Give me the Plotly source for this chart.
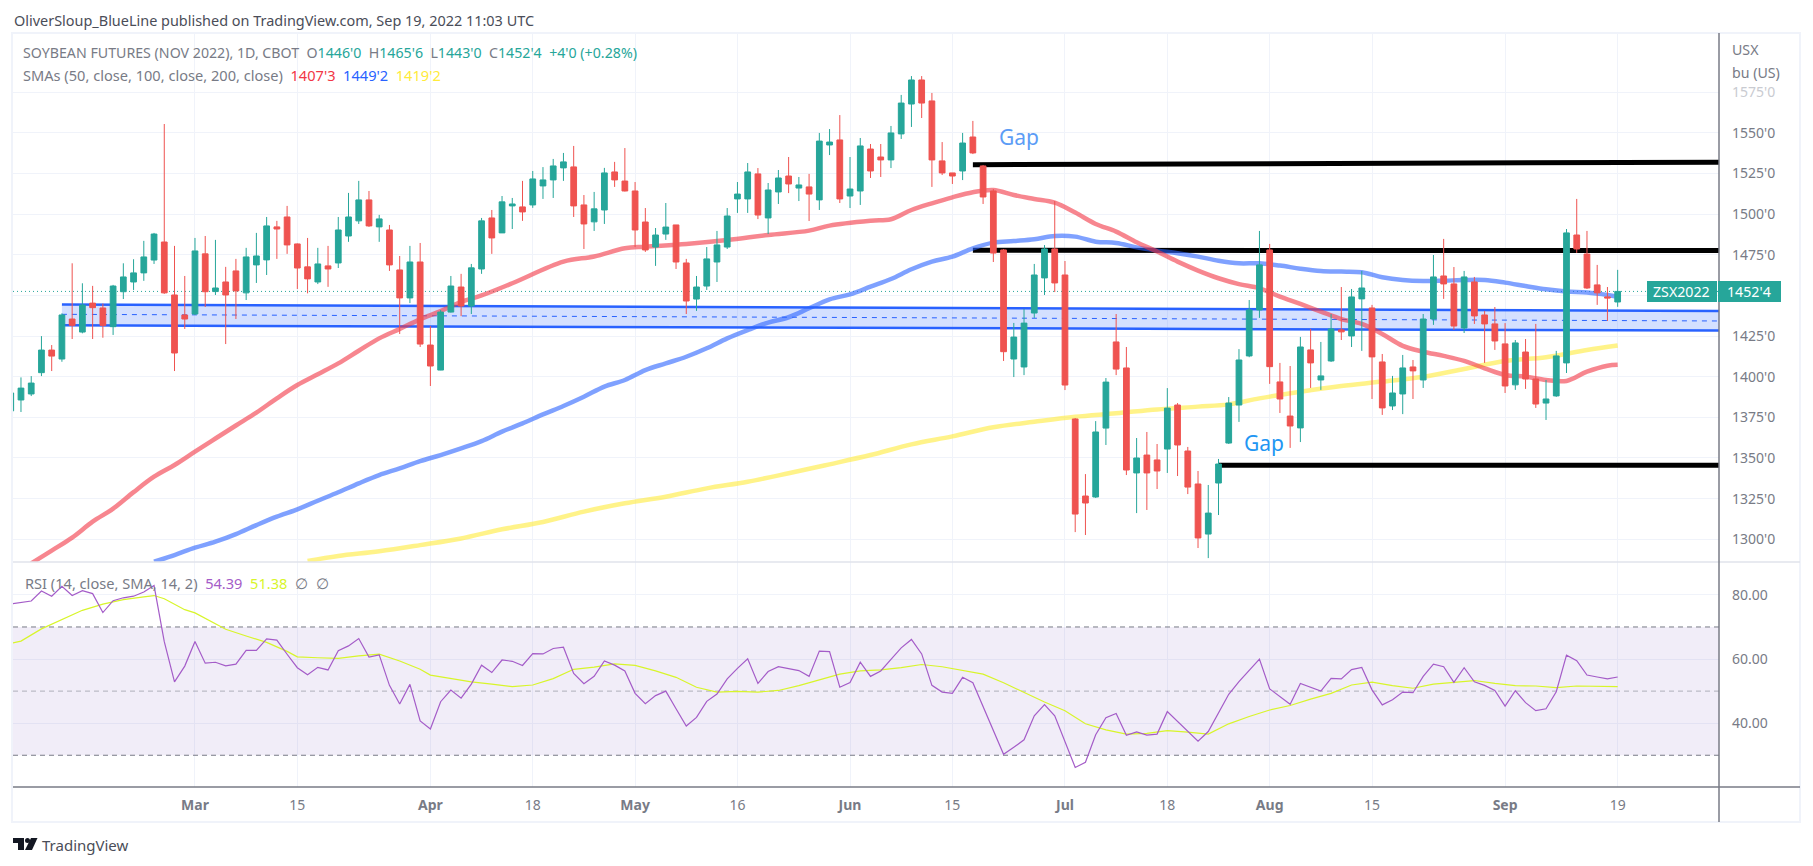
import pandas as pd
import plotly.graph_objects as go
from plotly.subplots import make_subplots

# ── data: daily bars, Feb 2 - Sep 19 2022 ──────────────────────────────────
holidays = ["2022-02-21", "2022-04-15", "2022-05-30", "2022-06-20", "2022-07-04", "2022-09-05"]
dates = [d for d in pd.bdate_range("2022-02-02", "2022-09-19") if d.strftime("%Y-%m-%d") not in holidays]

# open, high, low, close
ohlc = [
    (1379, 1390, 1379, 1390), (1385.7, 1399.6, 1378.3, 1393), (1389.4, 1400.4, 1388.1, 1396.1),
    (1402.5, 1425, 1400.4, 1416.4), (1416.4, 1419.5, 1403.5, 1412.7), (1410.9, 1439, 1409.2, 1438),
    (1435.5, 1469.8, 1423.2, 1431.6), (1427.5, 1457.5, 1426.7, 1444.1), (1445.3, 1455.9, 1423.2, 1442.5),
    (1442.3, 1445, 1424, 1431.6), (1430.8, 1456.5, 1425.7, 1455.8), (1452.3, 1469.8, 1447.8, 1461.4),
    (1458.3, 1472.3, 1453.4, 1463.9), (1463.9, 1483.6, 1459, 1473.7), (1471.8, 1488.5, 1469.4, 1487.8),
    (1482.9, 1555.5, 1451, 1451.6), (1450.3, 1480.5, 1403.5, 1414.6), (1438, 1462, 1429.4, 1435.5),
    (1438.6, 1485.4, 1438, 1477.4), (1475.6, 1486.6, 1442.9, 1452.3), (1452.4, 1484.2, 1450.3, 1454.6),
    (1458.3, 1467.6, 1420.1, 1450.3), (1465.1, 1472.5, 1435.5, 1452.8), (1451.6, 1479.3, 1447.2, 1473.7),
    (1468.8, 1488.5, 1457.7, 1474.3), (1471.9, 1498.3, 1462.6, 1492.8), (1492.2, 1495.9, 1472.5, 1490.9),
    (1498.3, 1505.1, 1475.6, 1481.1), (1481.7, 1482, 1454, 1466.9), (1467.6, 1485.4, 1451.3, 1460.2),
    (1458.3, 1479.3, 1457, 1469.4), (1468.2, 1480.5, 1455.3, 1466.3), (1470, 1498.3, 1466.9, 1490.3),
    (1486.6, 1513.1, 1483, 1498.3), (1495.9, 1520.5, 1494, 1508.8), (1508.8, 1514.3, 1492.2, 1492.8),
    (1492.2, 1499.6, 1483, 1497.1), (1490.3, 1493.4, 1465.1, 1468.8), (1465.7, 1474.3, 1426.3, 1448.5),
    (1448.5, 1480.5, 1445.3, 1470.6), (1470.6, 1482.3, 1418.3, 1420.1), (1419.5, 1431.2, 1394.3, 1406.6),
    (1404.1, 1441, 1404, 1439.8), (1439.8, 1462, 1439.5, 1455.8), (1455.2, 1463.3, 1437.3, 1443.5),
    (1443.5, 1469.4, 1438.6, 1467), (1466.3, 1497.7, 1463.3, 1495.9), (1497.7, 1502.6, 1475.6, 1485.4),
    (1488.5, 1511.2, 1488.5, 1507.6), (1505.1, 1510, 1490.9, 1506.3), (1504.5, 1520.5, 1495.9, 1501.4),
    (1505.7, 1526.6, 1503.9, 1521.7), (1517.4, 1529, 1509.4, 1521.1), (1521.1, 1534, 1510, 1529.7),
    (1528.5, 1537.7, 1520.5, 1532.2), (1529.1, 1542, 1498.3, 1505.1), (1505.7, 1511.8, 1478.6, 1494),
    (1495.3, 1513.7, 1489.7, 1503.3), (1502.6, 1528.5, 1494, 1525.4), (1526, 1532.2, 1516.8, 1521.1),
    (1520.4, 1540.7, 1514, 1514.3), (1514.3, 1519.8, 1479.8, 1490.3), (1495.2, 1503.8, 1476.8, 1478),
    (1479.8, 1491.5, 1468.2, 1487.2), (1487.8, 1506.9, 1484.2, 1492.1), (1493.4, 1493.4, 1466.3, 1470.6),
    (1470, 1472.5, 1438.6, 1446.6), (1447.8, 1462, 1440.5, 1455.2), (1455.8, 1479.8, 1453.4, 1472.5),
    (1470.6, 1489.7, 1458.3, 1481.1), (1479.8, 1503.8, 1478.6, 1498.9), (1509.4, 1519.8, 1500.8, 1512.4),
    (1509.4, 1531.5, 1500.8, 1526), (1524.8, 1528.4, 1497, 1499.5), (1497.7, 1519.2, 1487.8, 1514.9),
    (1513.7, 1527.2, 1506.3, 1522.3), (1523.5, 1535.2, 1513, 1518.6), (1516.1, 1522.9, 1508.1, 1518),
    (1516.8, 1524.8, 1495.8, 1512.4), (1508.8, 1550, 1502.6, 1545), (1542.6, 1552.4, 1536.4, 1544.4),
    (1545.7, 1561, 1506.9, 1509.4), (1511.2, 1535.2, 1503.8, 1515.5), (1514.3, 1546.9, 1505.7, 1542),
    (1540.1, 1543.2, 1522.3, 1526.6), (1535.2, 1543.2, 1522.9, 1533.4), (1533.4, 1554.3, 1528.4, 1550),
    (1549.4, 1573.4, 1546.3, 1568.4), (1567.8, 1585, 1553.7, 1582.6), (1582.6, 1585, 1559.2, 1568.4),
    (1569.7, 1574.6, 1516.8, 1533.4), (1532.8, 1544.4, 1524.1, 1525.4), (1525.4, 1525.4, 1518.6, 1523.5),
    (1526.6, 1550, 1521, 1543.8), (1547.5, 1557.4, 1537, 1537.7), (1529.7, 1530.3, 1506.3, 1510.6),
    (1514.3, 1515.5, 1470.6, 1476.1), (1478, 1478.6, 1409.7, 1415.4), (1410.9, 1433.1, 1399.8, 1424.4),
    (1406, 1441.7, 1401, 1433), (1439.2, 1469.4, 1436.2, 1462.6), (1460.8, 1481, 1450.3, 1478.6),
    (1478.6, 1508.1, 1452.1, 1457.7), (1462.6, 1471.2, 1391.8, 1394.9), (1374, 1374.6, 1304.4, 1315.5),
    (1326.6, 1340.1, 1302.6, 1322.3), (1326, 1372.7, 1325.4, 1366), (1368.4, 1399.2, 1358, 1396.7),
    (1421.4, 1438.6, 1401, 1404.7), (1405.4, 1418.3, 1339.5, 1342.6), (1340.8, 1362.3, 1316.1, 1350),
    (1351.8, 1366, 1318, 1340.8), (1348.8, 1358.6, 1330.9, 1342), (1355.5, 1393, 1340.8, 1380.7),
    (1382.6, 1383.8, 1338.9, 1358), (1354.3, 1356.8, 1327.8, 1332.1), (1334, 1342, 1294.6, 1300.8),
    (1303.2, 1333.4, 1288.4, 1316.1), (1334.6, 1349.4, 1314.9, 1346.3), (1359.2, 1387.5, 1358.6, 1383.8),
    (1382.6, 1417, 1372.2, 1410.3), (1412.8, 1447.2, 1412, 1441.1), (1441.1, 1489.7, 1436.2, 1468.8),
    (1478, 1481.7, 1395.6, 1406.2), (1396.8, 1408.5, 1377.7, 1386.3), (1375.8, 1406.6, 1356.2, 1369.7),
    (1368.5, 1424.5, 1359.8, 1418.3), (1416.5, 1429.4, 1393.1, 1408.5), (1398, 1421.4, 1391.9, 1400.5),
    (1409.7, 1438.6, 1409.1, 1429.4), (1428.8, 1455.2, 1422.6, 1427.6), (1425.1, 1454, 1418.3, 1449.1),
    (1447.9, 1465.1, 1415.9, 1454.6), (1442.3, 1444.2, 1386.3, 1412.2), (1409.1, 1414, 1376.5, 1380.8),
    (1382, 1400.5, 1379.5, 1390), (1389.4, 1413.4, 1377, 1405.4), (1406, 1410.3, 1386.3, 1403.6),
    (1398, 1438.6, 1393.1, 1435.5), (1435.5, 1474.9, 1431.9, 1461.4), (1462, 1484.8, 1447.9, 1457.1),
    (1457.1, 1467.5, 1428.8, 1431.2), (1430, 1465.1, 1426.9, 1461.4), (1458.3, 1461.4, 1432.5, 1437.4),
    (1438, 1440.5, 1408.5, 1432.5), (1432.5, 1442.9, 1416.5, 1422), (1420.2, 1433, 1390, 1394.3),
    (1395, 1422.6, 1391.9, 1420.8), (1415.2, 1423.2, 1392.5, 1398.6), (1398.6, 1432.5, 1380.8, 1383.2),
    (1383.8, 1398, 1373.4, 1386.3), (1388.2, 1415.9, 1387.6, 1412.8), (1408.5, 1490.9, 1402.3, 1488.5),
    (1487.2, 1509.4, 1476.2, 1478.6), (1475.5, 1489.7, 1454, 1454.6), (1456.5, 1468.8, 1444.2, 1451.6),
    (1449.1, 1455.2, 1434.3, 1448.5), (1446, 1465.75, 1443, 1452.5),
]
df = pd.DataFrame(ohlc, columns=["open", "high", "low", "close"])
df["date"] = dates
df["bar"] = range(len(df))

# moving averages, read every second bar or so
sma50 = {2: 1285.2, 4: 1293, 6: 1301, 8: 1310.8, 10: 1318.8, 12: 1329, 14: 1338.5, 16: 1345.7, 18: 1353.9,
         20: 1362, 22: 1370, 24: 1377.9, 26: 1386.7, 28: 1394.9, 30: 1401.5, 32: 1408.2, 34: 1416, 36: 1423.6,
         38: 1429.4, 40: 1435.3, 42: 1440.4, 44: 1446, 46: 1450, 49: 1457.5, 54: 1470.8, 57: 1474, 60: 1479,
         62: 1480, 66: 1481.7, 70: 1484.1, 74: 1487.2, 78: 1489.9, 80: 1493, 84: 1496, 86: 1496.9, 88: 1502.6,
         90: 1506.7, 92: 1510.4, 94: 1513.5, 96: 1514.9, 98: 1511.8, 100: 1509.4, 102: 1507.1, 104: 1501,
         106: 1494, 108: 1489.3, 110: 1482.7, 112: 1477, 114: 1470.8, 116: 1465.3, 118: 1460.6, 120: 1457,
         122: 1454.4, 124: 1449.3, 126: 1444.8, 128: 1440.1, 130: 1435.5, 132: 1432.5, 134: 1426.3, 136: 1419,
         138: 1415.4, 140: 1412.8, 142: 1409.7, 144: 1405.2, 146: 1401.1, 148: 1400, 150: 1398, 152: 1397.4,
         154: 1403.1, 156: 1406.8, 157: 1407.4}
sma100 = {14: 1286.2, 16: 1290.3, 18: 1294.8, 20: 1298.5, 22: 1303.2, 24: 1308.7, 26: 1313.9, 28: 1318.4,
          30: 1323.7, 32: 1328.9, 34: 1334.4, 36: 1339.5, 38: 1343.6, 40: 1348.1, 42: 1351.8, 44: 1355.9,
          46: 1360.4, 48: 1366.2, 50: 1371.3, 52: 1376.8, 54: 1382, 56: 1387.7, 58: 1393.9, 60: 1398, 62: 1404.1,
          64: 1408.2, 66: 1412.3, 68: 1417.5, 70: 1423.6, 72: 1428.7, 74: 1433.3, 76: 1436.6, 78: 1442.1,
          80: 1447.6, 82: 1450.7, 84: 1455.4, 86: 1460.1, 88: 1466.1, 90: 1470.8, 92: 1473.9, 94: 1479,
          96: 1482.5, 98: 1483.5, 100: 1484.6, 102: 1486.6, 104: 1486.2, 106: 1483.1, 108: 1482.3, 110: 1479.6,
          112: 1477.6, 114: 1476, 116: 1473.9, 118: 1471.4, 120: 1469.8, 122: 1469.8, 124: 1468.4, 126: 1466.5,
          128: 1465.1, 130: 1464.7, 132: 1464.3, 134: 1461.2, 136: 1459.5, 138: 1458.9, 140: 1459.1, 142: 1459.5,
          144: 1459.5, 146: 1457.9, 148: 1455.8, 150: 1453.8, 152: 1452.4, 154: 1451.8, 156: 1450.3, 157: 1449.25}
sma200 = {29: 1286.6, 32: 1289.7, 36: 1292.6, 40: 1296.4, 44: 1300.5, 48: 1306.1, 52: 1310.6, 56: 1317, 60: 1322.1,
          64: 1326.2, 68: 1331.3, 72: 1335.4, 76: 1340.6, 80: 1346.1, 84: 1351.8, 88: 1358.4, 92: 1363.3, 96: 1368.9,
          100: 1372.3, 104: 1375.4, 108: 1377.5, 112: 1379.9, 116: 1381.6, 119: 1383, 122: 1386.7, 126: 1390.8,
          130: 1394.3, 134: 1397, 138: 1400, 142: 1404.8, 146: 1409.7, 150: 1412, 154: 1416.5, 157: 1419.25}

rsi = [77.2, 77.7, 78.1, 81.2, 79.6, 82.7, 79.8, 81.3, 80.4, 74.5, 78.2, 79.1, 79.6, 80.9, 82.9, 65.4, 52.9, 57.8,
       65.5, 58.7, 59, 57.9, 58.4, 62.7, 62.7, 66.3, 65.9, 61.5, 57.3, 55.1, 57.4, 56.6, 62.6, 64.1, 66.4, 60.6,
       61.3, 51.8, 46, 52.1, 40.7, 38.2, 46.7, 50.3, 47.8, 52.2, 58.1, 55.8, 59.7, 59.3, 58, 61.7, 61.6, 63.3,
       63.7, 55.5, 52.3, 54.6, 59.4, 58.1, 56.3, 49.3, 46.1, 48.6, 50, 44.5, 39.1, 41.8, 46.8, 49.1, 53.8, 57.1,
       60.1, 52.4, 56.1, 57.6, 56.9, 56.4, 54.6, 62.5, 62.3, 51.2, 52.7, 59, 54.6, 56.3, 59.9, 63.5, 66.1, 61.6,
       51.8, 49.7, 49.3, 54.3, 52.6, 45.2, 37.7, 30.3, 32.5, 34.8, 42.3, 45.8, 42.3, 34, 26.2, 27.8, 36.4, 41.7,
       43, 36.2, 37.3, 36.3, 36.6, 43.6, 40.5, 37.4, 34.4, 37.4, 43.1, 49, 52.95, 56.6, 60, 50.7, 48.2, 45.9, 52.4,
       51.3, 50, 54, 53.8, 56.7, 57.4, 50.4, 45.7, 47.3, 49.7, 49.5, 54.6, 58.4, 57.6, 52.7, 57.3, 52.9, 51.8,
       50.2, 45.3, 50.1, 46.4, 43.9, 44.5, 49.8, 61.2, 59.5, 55, 54.4, 53.8, 54.39]
rsi_ma = {0: 64.9, 1: 65.6, 3: 69.4, 5: 72.4, 7: 75.2, 9: 77.1, 11: 78.5, 13: 79.4, 14: 79.8, 15: 78.8, 17: 75.4,
          18: 74.4, 20: 71.1, 21: 69.3, 23: 67.2, 25: 65.2, 27: 62.4, 28: 60.7, 30: 60.4, 32: 60.2, 34: 61, 36: 61.5,
          38: 59.4, 40: 56.8, 41: 55, 43: 54, 45: 52.9, 47: 52.2, 49: 51.4, 51: 51.9, 53: 53.9, 55: 56.8, 57: 57.5,
          59: 58.5, 61: 58, 63: 56.3, 65: 54.3, 67: 51.2, 69: 49.7, 71: 49.9, 73: 49.7, 75: 50.2, 77: 51.7, 79: 53.5,
          81: 55.3, 83: 56.3, 85: 56.6, 87: 57.3, 89: 58.3, 91: 57.6, 93: 56.5, 95: 55.3, 97: 52.6, 99: 49.5,
          101: 46.6, 103: 43.9, 105: 39.8, 107: 37.9, 109: 36.6, 111: 36.8, 113: 37.7, 115: 37.2, 117: 36.6,
          119: 39.8, 121: 42.1, 123: 44.1, 125: 45.5, 127: 47.5, 129: 49.3, 131: 51.9, 133: 52.8, 135: 51.7,
          137: 50.9, 139: 52.2, 141: 52.7, 143: 53.3, 145: 52.4, 147: 51.7, 149: 51.6, 151: 51.1, 153: 51.6,
          155: 51.5, 157: 51.38}

# ── page geometry (pixels) ──────────────────────────────────────────────────
W, H = 1813, 866
LEFT, AXIS, FRAME_R = 13, 1719, 1800
TOP, SPLIT, BOTTOM, FRAME_B = 33, 562, 787, 822
X_RANGE = [0.22, 166.9]
LAST = 1452.5

FONT = "Noto Sans"
TEXT = 14.2
GREY = "#787b86"
GREEN = "#26a69a"
RED = "#ef5350"
GRID = "#f0f3fa"


def px(x):
    return x / W


def py(y):
    return 1 - y / H


fig = make_subplots(rows=2, cols=1, shared_xaxes=True, vertical_spacing=0)


def line(x, y, color, width, dash="solid", row=1, shape="linear", **kw):
    fig.add_trace(go.Scatter(x=x, y=y, mode="lines", line=dict(color=color, width=width, dash=dash, shape=shape),
                             hoverinfo="skip", showlegend=False, **kw), row=row, col=1)


# ── drawings: parallel channel, gap lines, last price ───────────────────────
line([5, X_RANGE[1]], [1444.5, 1440.5], "#2962ff", 2.5)
line([5, X_RANGE[1]], [1431.6, 1428.4], "#2962ff", 2.5, fill="tonexty", fillcolor="rgba(41,98,255,0.2)")
line([5, X_RANGE[1]], [1438.4, 1434.3], "#2962ff", 1, dash="5px,5px")
line([94, X_RANGE[1]], [1530.5, 1532], "black", 5)
line([94, X_RANGE[1]], [1477.8, 1477.6], "black", 5)
line([118, X_RANGE[1]], [1345.5, 1345.5], "black", 5)
line(X_RANGE, [LAST, LAST], GREEN, 1, dash="1px,3px")

# ── moving averages ─────────────────────────────────────────────────────────
for values, color in [(sma200, "rgba(255,235,59,0.6)"), (sma100, "rgba(41,98,255,0.6)"), (sma50, "rgba(242,54,69,0.6)")]:
    line(list(values), list(values.values()), color, 4.5, shape="spline")

# ── candles ─────────────────────────────────────────────────────────────────
fig.add_trace(go.Candlestick(
    x=df["bar"], open=df["open"], high=df["high"], low=df["low"], close=df["close"],
    increasing=dict(line=dict(color=GREEN, width=1), fillcolor=GREEN),
    decreasing=dict(line=dict(color=RED, width=1), fillcolor=RED),
    hoverinfo="skip", showlegend=False, zorder=2,
), row=1, col=1)

# ── RSI pane ────────────────────────────────────────────────────────────────
line(X_RANGE + X_RANGE[::-1], [70, 70, 30, 30], "rgba(0,0,0,0)", 0, row=2, fill="toself",
     fillcolor="rgba(126,87,194,0.11)")
line(X_RANGE, [70, 70], GREY, 1, dash="5px,4px", row=2)
line(X_RANGE, [50, 50], "rgba(120,123,134,0.55)", 1, dash="5px,4px", row=2)
line(X_RANGE, [30, 30], GREY, 1, dash="5px,4px", row=2)
line(list(rsi_ma), list(rsi_ma.values()), "#d8f52a", 1.2, row=2)
line(df["bar"], rsi, "#a45cc8", 1.2, row=2)

# ── axes ────────────────────────────────────────────────────────────────────
ticks = {"2022-03-01": "<b>Mar</b>", "2022-03-15": "15", "2022-04-01": "<b>Apr</b>", "2022-04-18": "18",
         "2022-05-02": "<b>May</b>", "2022-05-16": "16", "2022-06-01": "<b>Jun</b>", "2022-06-15": "15",
         "2022-07-01": "<b>Jul</b>", "2022-07-18": "18", "2022-08-01": "<b>Aug</b>", "2022-08-15": "15",
         "2022-09-01": "<b>Sep</b>", "2022-09-19": "19"}
tick_bars = [int(df.loc[df["date"] == d, "bar"].iloc[0]) for d in ticks]

fig.update_xaxes(range=X_RANGE, domain=[px(LEFT), px(AXIS)], tickvals=tick_bars, ticktext=list(ticks.values()),
                 gridcolor=GRID, gridwidth=1, zeroline=False, showline=False, rangeslider_visible=False,
                 tickfont=dict(family=FONT, size=14, color=GREY), ticks="")
fig.update_xaxes(showticklabels=False, row=1, col=1)
fig.update_xaxes(showticklabels=True, ticklabelstandoff=8, row=2, col=1)

prices = list(range(1300, 1600, 25))
price_text = [f"{p}'0" for p in prices]
price_text[-1] = '<span style="color:#c9cbd1">1575\'0</span>'  # fades out under the unit label
fig.update_yaxes(side="right", range=[1286, 1611.5], domain=[py(SPLIT), py(TOP)], tickvals=prices,
                 ticktext=price_text, row=1, col=1)
fig.update_yaxes(side="right", range=[20.1, 90.26], domain=[py(BOTTOM), py(SPLIT)], tickvals=[40, 60, 80],
                 ticktext=["40.00", "60.00", "80.00"], row=2, col=1)
fig.update_yaxes(gridcolor=GRID, gridwidth=1, zeroline=False, showline=False, ticks="", ticklabelstandoff=12,
                 tickfont=dict(family=FONT, size=14, color=GREY))

# ── frame and price tags ────────────────────────────────────────────────────
shapes = [
    dict(type="rect", x0=px(LEFT - 1), x1=px(FRAME_R), y0=py(TOP), y1=py(FRAME_B), line=dict(color=GRID, width=2)),
    dict(type="line", x0=px(LEFT), x1=px(FRAME_R), y0=py(SPLIT), y1=py(SPLIT), line=dict(color="#e0e3eb", width=1.5)),
    dict(type="line", x0=px(LEFT), x1=px(FRAME_R), y0=py(BOTTOM), y1=py(BOTTOM), line=dict(color=GREY, width=1.5)),
    dict(type="line", x0=px(AXIS), x1=px(AXIS), y0=py(TOP), y1=py(FRAME_B), line=dict(color=GREY, width=1.5)),
    dict(type="rect", x0=px(1647), x1=px(1717), y0=py(281), y1=py(302), fillcolor=GREEN, line_width=0),
    dict(type="rect", x0=px(1718), x1=px(1781), y0=py(281), y1=py(302), fillcolor=GREEN, line_width=0),
    # logo
    dict(type="rect", x0=px(13), x1=px(24), y0=py(838), y1=py(843), fillcolor="#131722", line_width=0),
    dict(type="rect", x0=px(18), x1=px(24), y0=py(843), y1=py(850), fillcolor="#131722", line_width=0),
    dict(type="circle", x0=px(25), x1=px(30), y0=py(838), y1=py(843), fillcolor="#131722", line_width=0),
    dict(type="path", path=f"M {px(31)} {py(838)} L {px(37.5)} {py(838)} L {px(32)} {py(850)} L {px(25)} {py(850)} Z",
         fillcolor="#131722", line_width=0),
]
for s in shapes:
    s.update(xref="paper", yref="paper")


def label(x, y, text, size=TEXT, color=GREY, anchor="left"):
    return dict(xref="paper", yref="paper", x=px(x), y=py(y), text=text, showarrow=False, xanchor=anchor,
                yanchor="middle", align="left", font=dict(family=FONT, size=size, color=color), xshift=-1)


def c(text, color):
    return f'<span style="color:{color}">{text}</span>'


header = ("SOYBEAN FUTURES (NOV 2022), 1D, CBOT  O" + c("1446'0", GREEN) + "  H" + c("1465'6", GREEN) + "  L"
          + c("1443'0", GREEN) + "  C" + c("1452'4", GREEN) + "  " + c("+4'0 (+0.28%)", GREEN))
smas = ("SMAs (50, close, 100, close, 200, close)  " + c("1407'3", "#f23645") + "  " + c("1449'2", "#2962ff")
        + "  " + c("1419'2", "#ffeb3b"))
rsi_head = "RSI (14, close, SMA, 14, 2)  " + c("54.39", "#a45cc8") + "  " + c("51.38", "#d8f52a") + "  ∅  ∅"

annotations = [
    label(13, 20, "OliverSloup_BlueLine published on TradingView.com, Sep 19, 2022 11:03 UTC", size=14.45, color="#4a4d58"),
    label(22, 53, header),
    label(22, 75, smas, size=14.6),
    label(24, 583, rsi_head, size=14.6),
    label(1731, 50, "USX"),
    label(1731, 73, "bu (US)"),
    label(998, 137, "Gap", size=21, color="#5b9cf6"),
    label(1243, 443, "Gap", size=21, color="#2196f3"),
    label(1682, 291.5, "ZSX2022", color="white", anchor="center"),
    label(1750, 291.5, "1452'4", color="white", anchor="center"),
    label(41, 845, "TradingView", size=15, color="#4a4d58"),
]

fig.update_layout(width=W, height=H, autosize=False, margin=dict(l=0, r=0, t=0, b=0), paper_bgcolor="white",
                  plot_bgcolor="white", showlegend=False, shapes=shapes, annotations=annotations, boxgap=0.2)

# page margin off, so the figure sits at 0,0 in the window
fig.write_html("out.html", config={"displayModeBar": False}, post_script="document.body.style.margin = '0';")
